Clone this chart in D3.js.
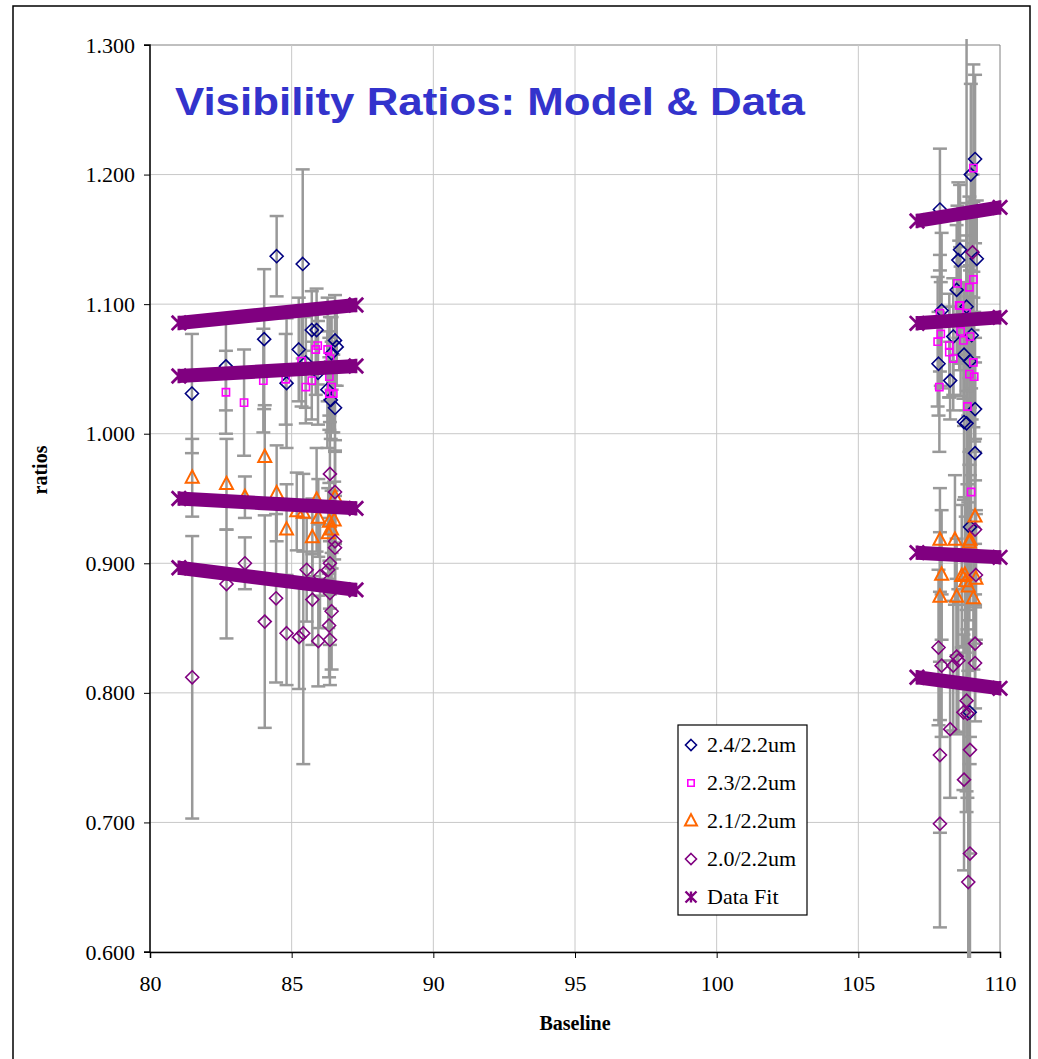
<!DOCTYPE html>
<html>
<head>
<meta charset="utf-8">
<script src="https://cdn.jsdelivr.net/npm/d3@7"></script>
<style>
  html, body { margin: 0; padding: 0; background: #fff; }
  svg { display: block; }
</style>
</head>
<body>
<svg id="chart" width="1038" height="1059"></svg>
<script>
// Ratio measurements: [baseline, ratio, error]
const ratio24 = [
  [81.48, 1.031, 0.046], [82.68, 1.052, 0.034], [84.03, 1.073, 0.054], [84.47, 1.137, 0.031],
  [84.82, 1.039, 0.050], [85.25, 1.065, 0.040], [85.39, 1.131, 0.073], [85.50, 1.055, 0.035],
  [85.71, 1.080, 0.030], [85.88, 1.080, 0.032], [85.93, 1.047, 0.040], [86.26, 1.034, 0.045],
  [86.38, 1.026, 0.030], [86.41, 1.062, 0.028], [86.53, 1.072, 0.035], [86.59, 1.067, 0.030],
  [86.53, 1.020, 0.033],
  [107.88, 1.173, 0.047], [107.83, 1.054, 0.040], [107.94, 1.095, 0.060], [108.24, 1.041, 0.030],
  [108.35, 1.075, 0.045], [108.47, 1.111, 0.050], [108.53, 1.134, 0.060], [108.59, 1.142, 0.050],
  [108.73, 1.061, 0.055], [108.73, 1.009, 0.060], [108.82, 1.008, 0.300], [108.82, 1.098, 0.080],
  [108.94, 1.056, 0.070], [108.97, 1.200, 0.070], [109.00, 1.076, 0.065], [109.12, 1.212, 0.065],
  [109.18, 1.135, 0.045], [109.12, 1.019, 0.055], [109.12, 0.985, 0.070], [108.94, 0.928, 0.060],
  [108.93, 0.785, 0.040]
];
const ratio23 = [
  [82.68, 1.032, 0.032], [83.32, 1.024, 0.041], [84.00, 1.041, 0.040], [84.79, 1.042, 0.035],
  [85.35, 1.056, 0.035], [85.50, 1.036, 0.028], [85.71, 1.041, 0.030], [85.85, 1.065, 0.035],
  [85.92, 1.068, 0.030], [86.27, 1.065, 0.040], [86.35, 1.058, 0.032], [86.33, 1.044, 0.030],
  [86.41, 1.036, 0.035], [86.33, 1.031, 0.028], [86.47, 1.031, 0.030],
  [107.88, 1.093, 0.045], [107.91, 1.077, 0.040], [107.80, 1.071, 0.050], [107.86, 1.036, 0.050],
  [108.21, 1.068, 0.040], [108.21, 1.063, 0.035], [108.35, 1.058, 0.040], [108.50, 1.116, 0.060],
  [108.56, 1.099, 0.050], [108.59, 1.099, 0.045], [108.61, 1.079, 0.050], [108.71, 1.072, 0.045],
  [108.82, 1.093, 0.060], [108.85, 1.021, 0.060], [108.92, 1.113, 0.070], [108.92, 1.046, 0.060],
  [108.94, 1.075, 0.055], [108.98, 0.955, 0.080], [109.06, 1.205, 0.080], [109.06, 1.119, 0.060],
  [109.06, 1.055, 0.050], [109.09, 1.044, 0.050]
];
const ratio21 = [
  [81.49, 0.966, 0.030], [82.70, 0.961, 0.035], [83.35, 0.951, 0.016], [84.05, 0.982, 0.040],
  [84.47, 0.954, 0.037], [84.82, 0.926, 0.035], [85.18, 0.940, 0.030], [85.41, 0.939, 0.030],
  [85.73, 0.920, 0.030], [85.88, 0.949, 0.040], [85.94, 0.935, 0.030], [86.29, 0.923, 0.035],
  [86.33, 0.932, 0.030], [86.41, 0.926, 0.030], [86.50, 0.933, 0.030], [86.53, 0.951, 0.035],
  [107.88, 0.918, 0.040], [107.94, 0.891, 0.050], [107.88, 0.874, 0.050], [108.41, 0.918, 0.050],
  [108.47, 0.874, 0.045], [108.65, 0.890, 0.055], [108.76, 0.891, 0.060], [108.79, 0.886, 0.050],
  [108.88, 0.882, 0.065], [108.92, 0.916, 0.060], [108.94, 0.918, 0.050], [109.06, 0.873, 0.055],
  [109.12, 0.936, 0.060], [109.15, 0.888, 0.050]
];
const ratio20 = [
  [81.49, 0.812, 0.109], [82.70, 0.884, 0.042], [83.35, 0.900, 0.020], [84.05, 0.855, 0.082],
  [84.45, 0.873, 0.065], [84.82, 0.846, 0.040], [85.26, 0.843, 0.040], [85.41, 0.846, 0.101],
  [85.53, 0.895, 0.040], [85.73, 0.872, 0.035], [85.94, 0.840, 0.035], [86.00, 0.890, 0.040],
  [86.29, 0.895, 0.045], [86.35, 0.900, 0.035], [86.35, 0.969, 0.040], [86.53, 0.955, 0.040],
  [86.53, 0.917, 0.035], [86.53, 0.912, 0.030], [86.41, 0.863, 0.045], [86.32, 0.852, 0.040],
  [86.35, 0.841, 0.035], [86.35, 0.877, 0.040],
  [109.03, 1.140, 0.060], [109.15, 0.891, 0.050], [109.12, 0.926, 0.060], [107.83, 0.835, 0.060],
  [109.12, 0.838, 0.050], [109.12, 0.823, 0.045], [107.94, 0.821, 0.055], [108.35, 0.821, 0.050],
  [108.47, 0.828, 0.060], [108.53, 0.825, 0.055], [108.82, 0.794, 0.070], [108.71, 0.785, 0.060],
  [108.85, 0.784, 0.065], [108.24, 0.772, 0.053], [107.88, 0.752, 0.060], [108.94, 0.756, 0.080],
  [108.73, 0.733, 0.070], [107.88, 0.699, 0.080], [108.94, 0.676, 0.090], [108.88, 0.654, 0.360]
];

// Model fit segments: start/end baseline and ratio
const fitBaselines = [
  [81.02, 87.27], [81.02, 87.27], [81.02, 87.27], [81.02, 87.27],
  [107.07, 110.0], [107.07, 110.0], [107.07, 110.0], [107.07, 110.0]
];
const fitRatios = [
  [1.0855, 1.0993], [1.0445, 1.0523], [0.9500, 0.9424], [0.8966, 0.8795],
  [1.1642, 1.1747], [1.0852, 1.0898], [0.9082, 0.9046], [0.8120, 0.8035]
];

const xTicks = [80, 85, 90, 95, 100, 105, 110];
const yTicks = [0.6, 0.7, 0.8, 0.9, 1.0, 1.1, 1.2, 1.3];
const legendLabels = ["2.4/2.2um", "2.3/2.2um", "2.1/2.2um", "2.0/2.2um", "Data Fit"];

const svg = d3.select("#chart");
const plotL = 150, plotR = 1000, plotT = 45, plotB = 952;

const x = d3.scaleLinear().domain([80, 110]).range([plotL, plotR]);
const y = d3.scaleLinear().domain([0.6, 1.3]).range([plotB, plotT]);

// outer chart frame
svg.append("rect").attr("x", 13).attr("y", 6).attr("width", 1017).attr("height", 1070)
  .attr("fill", "#fff").attr("stroke", "#000").attr("stroke-width", 1.5);

// gridlines
const grid = svg.append("g");
grid.selectAll("line.h").data(yTicks).join("line")
  .attr("x1", plotL).attr("x2", plotR)
  .attr("y1", d => y(d)).attr("y2", d => y(d))
  .attr("stroke", d => d === 1.3 ? "#808080" : "#c8c8c8").attr("stroke-width", 1);
grid.selectAll("line.v").data(xTicks).join("line")
  .attr("y1", plotT).attr("y2", plotB)
  .attr("x1", d => x(d)).attr("x2", d => x(d))
  .attr("stroke", d => d === 110 ? "#808080" : "#c8c8c8").attr("stroke-width", 1);

// axes
const fmtY = d3.format(".3f");
const yAxis = svg.append("g").attr("transform", `translate(${plotL},0)`)
  .call(d3.axisLeft(y).tickValues(yTicks).tickFormat(fmtY).tickSize(6).tickPadding(9));
const xAxis = svg.append("g").attr("transform", `translate(0,${plotB})`)
  .call(d3.axisBottom(x).tickValues(xTicks).tickFormat(d3.format("d")).tickSize(6).tickPadding(17));
[yAxis, xAxis].forEach(a => {
  a.select(".domain").attr("stroke", "#000").attr("stroke-width", 1.5);
  a.selectAll(".tick line").attr("stroke", "#000");
  a.selectAll("text").attr("font-family", "'Liberation Serif', 'Times New Roman', serif")
    .attr("font-size", 22).attr("fill", "#000");
});
yAxis.select(".domain").attr("d", `M-6,${plotT}H0V${plotB}H-6`);

// clip for error bars
svg.append("clipPath").attr("id", "plotClip").append("rect")
  .attr("x", plotL - 10).attr("y", plotT - 6).attr("width", plotR - plotL + 20).attr("height", plotB - plotT + 12);

const series = [
  { data: ratio24, color: "#000080", shape: "diamond" },
  { data: ratio23, color: "#ff00ff", shape: "square" },
  { data: ratio21, color: "#ff6600", shape: "triangle" },
  { data: ratio20, color: "#800080", shape: "diamond" }
];

// error bars
const eb = svg.append("g").attr("clip-path", "url(#plotClip)")
  .attr("stroke", "#999").attr("stroke-width", 2.5).attr("fill", "none");
series.forEach(s => {
  const g = eb.append("g");
  g.selectAll("line.bar").data(s.data).join("line")
    .attr("x1", d => x(d[0])).attr("x2", d => x(d[0]))
    .attr("y1", d => y(d[1] + d[2])).attr("y2", d => y(d[1] - d[2]));
  g.selectAll("line.capT").data(s.data).join("line")
    .attr("x1", d => x(d[0]) - 7).attr("x2", d => x(d[0]) + 7)
    .attr("y1", d => y(d[1] + d[2])).attr("y2", d => y(d[1] + d[2]));
  g.selectAll("line.capB").data(s.data).join("line")
    .attr("x1", d => x(d[0]) - 7).attr("x2", d => x(d[0]) + 7)
    .attr("y1", d => y(d[1] - d[2])).attr("y2", d => y(d[1] - d[2]));
});

function markerPath(shape, r) {
  if (shape === "diamond") return `M0,${-r}L${r},0L0,${r}L${-r},0Z`;
  if (shape === "square") return `M${-r},${-r}H${r}V${r}H${-r}Z`;
  if (shape === "triangle") return `M0,${-r * 1.15}L${r},${r * 0.75}L${-r},${r * 0.75}Z`;
  // star: X with vertical stroke
  return `M${-r},${-r}L${r},${r}M${-r},${r}L${r},${-r}M0,${-r}V${r}`;
}
const sizes = { diamond: 6.5, square: 3.6, triangle: 6.5 };

// markers
series.forEach(s => {
  svg.append("g").selectAll("path").data(s.data).join("path")
    .attr("transform", d => `translate(${x(d[0])},${y(d[1])})`)
    .attr("d", markerPath(s.shape, sizes[s.shape]))
    .attr("fill", "none").attr("stroke", s.color)
    .attr("stroke-width", s.shape === "triangle" ? 2 : 1.6);
});

// fit bands
const fitColor = "#800080";
const fitG = svg.append("g");
const line = d3.line().x(d => x(d[0])).y(d => y(d[1]));
fitBaselines.forEach((bs, i) => {
  const pts = [[bs[0], fitRatios[i][0]], [bs[1], fitRatios[i][1]]];
  fitG.append("path").attr("d", line(pts))
    .attr("stroke", fitColor).attr("stroke-width", 14).attr("fill", "none");
  fitG.selectAll(null).data(pts).join("path")
    .attr("transform", d => `translate(${x(d[0])},${y(d[1])})`)
    .attr("d", markerPath("star", 7.2))
    .attr("stroke", fitColor).attr("stroke-width", 2.8).attr("fill", "none");
});

// title
svg.append("text").attr("x", 175).attr("y", 115)
  .attr("font-family", "'Liberation Sans', Arial, sans-serif").attr("font-weight", "bold")
  .attr("font-size", 38).attr("fill", "#3333cc")
  .attr("textLength", 630).attr("lengthAdjust", "spacingAndGlyphs")
  .text("Visibility Ratios: Model & Data");

// axis titles
svg.append("text").attr("transform", "translate(47,470) rotate(-90)")
  .attr("text-anchor", "middle").attr("font-family", "'Liberation Serif', 'Times New Roman', serif")
  .attr("font-weight", "bold").attr("font-size", 20).text("ratios");
svg.append("text").attr("x", 575).attr("y", 1030)
  .attr("text-anchor", "middle").attr("font-family", "'Liberation Serif', 'Times New Roman', serif")
  .attr("font-weight", "bold").attr("font-size", 20).text("Baseline");

// legend
const lg = svg.append("g");
lg.append("rect").attr("x", 678).attr("y", 725).attr("width", 129).attr("height", 190)
  .attr("fill", "#fff").attr("stroke", "#000").attr("stroke-width", 1.2);
const legendItems = [
  { color: "#000080", shape: "diamond", r: 5.5, w: 1.6 },
  { color: "#ff00ff", shape: "square", r: 3.2, w: 1.6 },
  { color: "#ff6600", shape: "triangle", r: 6, w: 2 },
  { color: "#800080", shape: "diamond", r: 5.5, w: 1.6 },
  { color: "#800080", shape: "star", r: 5.5, w: 2.4 }
];
const rowY = d3.scalePoint().domain(legendLabels).range([745, 897]);
legendLabels.forEach((lab, i) => {
  const it = legendItems[i];
  lg.append("path").attr("transform", `translate(691,${rowY(lab)})`)
    .attr("d", markerPath(it.shape, it.r)).attr("fill", "none")
    .attr("stroke", it.color).attr("stroke-width", it.w);
  lg.append("text").attr("x", 707).attr("y", rowY(lab) + 7)
    .attr("font-family", "'Liberation Serif', 'Times New Roman', serif")
    .attr("font-size", 22).text(lab);
});
</script>
</body>
</html>
